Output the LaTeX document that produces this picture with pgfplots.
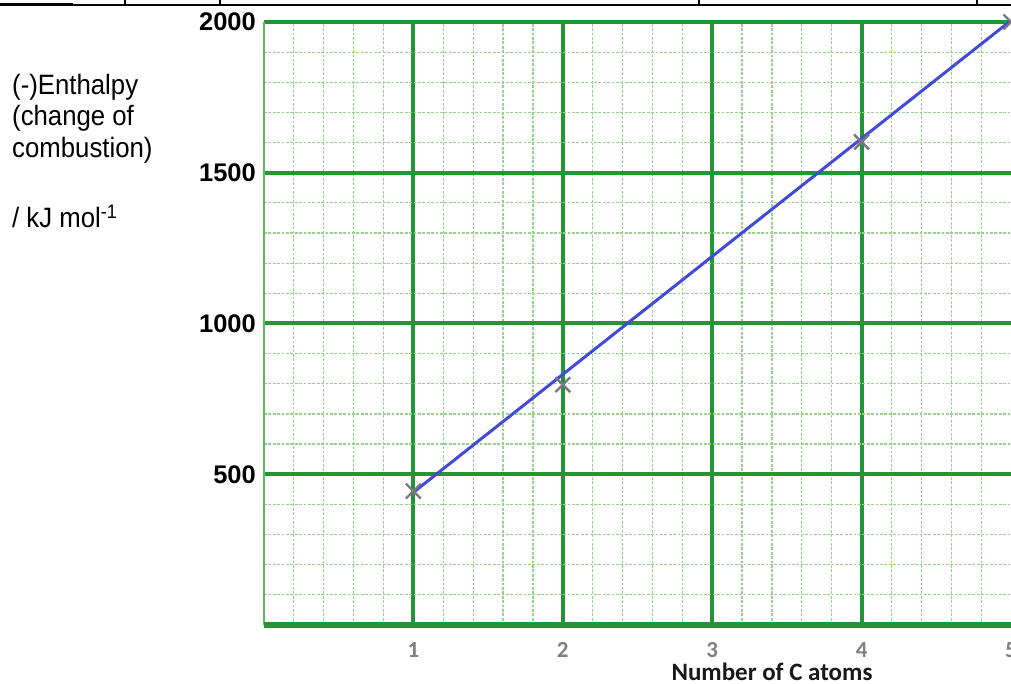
\documentclass[border=0pt]{standalone}
\usepackage{fontspec}
\usepackage{pgfplots}
\pgfplotsset{compat=1.18}
\setmainfont{Liberation Sans}
\newfontfamily\carlito{Carlito}
\newfontfamily\narrow[FakeStretch=0.92]{Liberation Sans}
\definecolor{mgreen}{RGB}{34,150,52}
\definecolor{lgreen}{RGB}{150,210,140}
\definecolor{agreen}{RGB}{95,185,95}
\definecolor{lineblue}{RGB}{65,75,215}
\definecolor{markgrey}{RGB}{120,120,125}
\definecolor{tickgrey}{RGB}{128,128,128}
\begin{document}
\begin{tikzpicture}
\path[use as bounding box] (0,0) rectangle (1011bp,684bp);
% decorative table borders at top
\draw[line width=1.5bp] (0,679bp) -- (1011bp,679bp);
\draw[line width=3bp] (0,679bp) -- (73bp,679bp);
\foreach \xx in {125,699,977} \draw[line width=1.5bp] (\xx bp,684bp) -- (\xx bp,679bp);
\draw[line width=2.5bp] (220bp,684bp) -- (220bp,679bp);
% y label
\node[anchor=base west,inner sep=0pt] at (12bp,589bp) {\narrow\fontsize{28bp}{32bp}\selectfont (-)Enthalpy};
\node[anchor=base west,inner sep=0pt] at (12bp,558bp) {\narrow\fontsize{28bp}{32bp}\selectfont (change of};
\node[anchor=base west,inner sep=0pt] at (12bp,526bp) {\narrow\fontsize{28bp}{32bp}\selectfont combustion)};
\node[anchor=base west,inner sep=0pt] at (12bp,456bp) {\narrow\fontsize{28bp}{32bp}\selectfont / kJ mol\textsuperscript{-1}};
% x label
\node[anchor=base,inner sep=0pt] at (772bp,4bp) {\carlito\bfseries\fontsize{25bp}{28bp}\selectfont\color[RGB]{25,25,25}Number of C atoms};
\begin{axis}[
  at={(264bp,59bp)}, anchor=south west,
  scale only axis, width=747bp, height=603bp,
  xmin=0, xmax=5, ymin=0, ymax=2000,
  axis line style={draw=none},
  clip=false,
  xtick={1,2,3,4}, xticklabels={1,2,3,4},
  extra x ticks={5}, extra x tick labels={5},
  extra x tick style={grid=none},
  ytick={500,1000,1500,2000}, yticklabels={500,1000,1500,2000},
  minor xtick={0.2,0.4,0.6,0.8,1.2,1.4,1.6,1.8,2.2,2.4,2.6,2.8,3.2,3.4,3.6,3.8,4.2,4.4,4.6,4.8},
  minor ytick={100,200,300,400,600,700,800,900,1100,1200,1300,1400,1600,1700,1800,1900},
  grid=both,
  major grid style={mgreen, line width=4bp},
  minor grid style={lgreen, line width=1.2bp, dash pattern=on 2.7bp off 1.7bp},
  major tick length=0pt, minor tick length=0pt,
  xticklabel style={font=\carlito\bfseries\fontsize{23bp}{26bp}\selectfont, text=tickgrey, inner sep=0pt, anchor=north, yshift=-17bp},
  yticklabel style={font=\bfseries\fontsize{25.5bp}{30bp}\selectfont, inner sep=0pt, anchor=east, xshift=-8bp},
]
\draw[agreen, line width=2bp] (axis cs:0,0) -- (axis cs:0,2000);
\draw[mgreen, line width=5bp] (axis cs:0,0) -- (axis cs:5.2,0);
\addplot[lineblue, line width=3bp] coordinates {(1,440) (5,2005)};
\addplot[only marks, draw=markgrey, mark=x, mark size=10.5bp, mark options={draw=markgrey, line width=2.4bp, mark size=10.5bp}] coordinates {(1,444) (2,797) (4,1602) (5,2000)};
\end{axis}
\end{tikzpicture}
\end{document}
